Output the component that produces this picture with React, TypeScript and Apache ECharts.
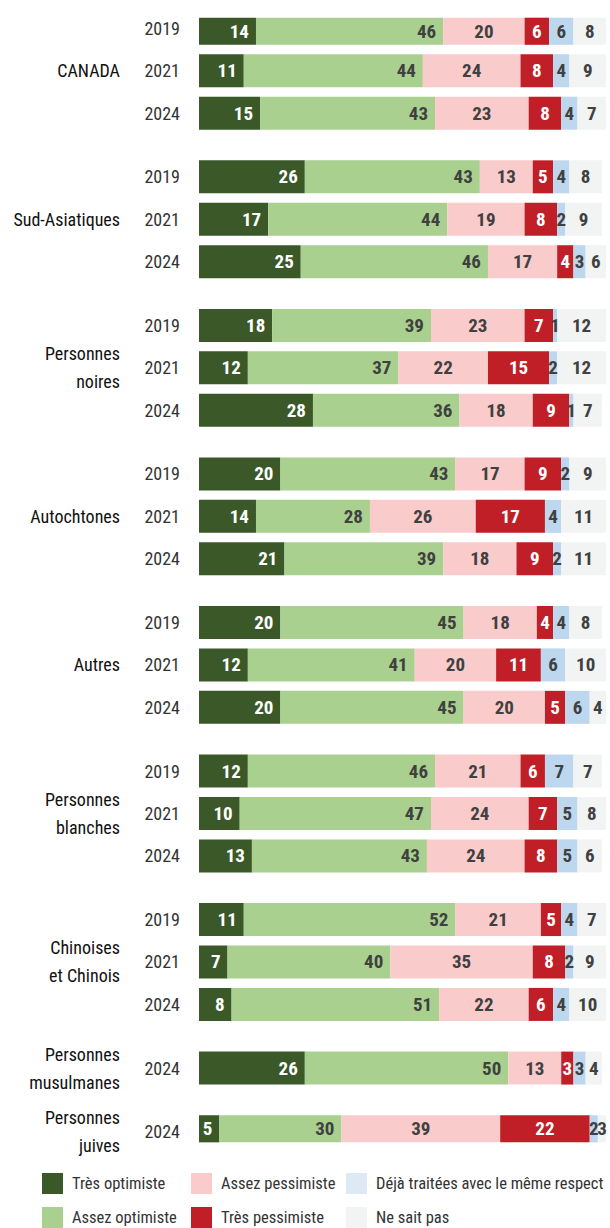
import React, { useEffect, useRef } from "react";
import * as echarts from "echarts";

const groups = [
  "CANADA",
  "Sud-Asiatiques",
  "Personnes\nnoires",
  "Autochtones",
  "Autres",
  "Personnes\nblanches",
  "Chinoises\net Chinois",
  "Personnes\nmusulmanes",
  "Personnes\njuives",
];
const groupYears = [
  ["2019", "2021", "2024"],
  ["2019", "2021", "2024"],
  ["2019", "2021", "2024"],
  ["2019", "2021", "2024"],
  ["2019", "2021", "2024"],
  ["2019", "2021", "2024"],
  ["2019", "2021", "2024"],
  ["2024"],
  ["2024"],
];

const seriesNames = [
  "Très optimiste",
  "Assez optimiste",
  "Assez pessimiste",
  "Très pessimiste",
  "Déjà traitées avec le même respect",
  "Ne sait pas",
];

const tresOptimiste = [14, 11, 15, 26, 17, 25, 18, 12, 28, 20, 14, 21, 20, 12, 20, 12, 10, 13, 11, 7, 8, 26, 5];
const assezOptimiste = [46, 44, 43, 43, 44, 46, 39, 37, 36, 43, 28, 39, 45, 41, 45, 46, 47, 43, 52, 40, 51, 50, 30];
const assezPessimiste = [20, 24, 23, 13, 19, 17, 23, 22, 18, 17, 26, 18, 18, 20, 20, 21, 24, 24, 21, 35, 22, 13, 39];
const tresPessimiste = [6, 8, 8, 5, 8, 4, 7, 15, 9, 9, 17, 9, 4, 11, 5, 6, 7, 8, 5, 8, 6, 3, 22];
const dejaTraitees = [6, 4, 4, 4, 2, 3, 1, 2, 1, 2, 4, 2, 4, 6, 6, 7, 5, 5, 4, 2, 4, 3, 2];
const neSaitPas = [8, 9, 7, 8, 9, 6, 12, 12, 7, 9, 11, 11, 8, 10, 4, 7, 8, 6, 7, 9, 10, 4, 3];

const seriesValues = [tresOptimiste, assezOptimiste, assezPessimiste, tresPessimiste, dejaTraitees, neSaitPas];

const colors = ["#3b5829", "#a9d08e", "#f9cbcb", "#c01f27", "#bdd7ee", "#f2f3f3"];
const legendColors = ["#3b5829", "#a9d08e", "#f9cbcb", "#c01f27", "#ddeaf6", "#f2f3f3"];
const labelColors = ["#ffffff", "#404040", "#404040", "#ffffff", "#404040", "#404040"];
const labelPositions = ["insideRight", "insideRight", "inside", "inside", "inside", "inside"];

const FONT = "'Roboto Condensed', 'DejaVu Sans Condensed', sans-serif";

type Slot = { id: string; row: number; year: string; group: string };

function buildSlots(): Slot[] {
  const slots: Slot[] = [];
  let row = 0;
  groups.forEach((g, gi) => {
    const yrs = groupYears[gi];
    const mid = Math.floor(yrs.length / 2);
    yrs.forEach((y, yi) => {
      slots.push({ id: `r${row}`, row, year: y, group: yi === mid ? g : "" });
      row++;
      if (yi < yrs.length - 1) slots.push({ id: `s${slots.length}`, row: -1, year: "", group: "" });
    });
    if (gi < groups.length - 1) {
      slots.push({ id: `s${slots.length}`, row: -1, year: "", group: "" });
      slots.push({ id: `s${slots.length}`, row: -1, year: "", group: "" });
    }
  });
  return slots;
}

export default function App() {
  const ref = useRef<HTMLDivElement>(null);
  useEffect(() => {
    if (!ref.current) return;
    const chart = echarts.init(ref.current, null, { renderer: "svg" });
    const slots = buildSlots();
    const cats = slots.map((s) => s.id);
    const slotH = 21.22;
    const firstCenter = 28.3;
    const top = firstCenter - slotH / 2;
    const height = slotH * slots.length;

    const series = seriesNames.map((name, si) => ({
      name,
      type: "bar",
      stack: "total",
      barWidth: 33,
      yAxisIndex: 0,
      itemStyle: { color: colors[si] },
      label: {
        show: true,
        position: labelPositions[si],
        distance: 7,
        color: labelColors[si],
        fontFamily: FONT,
        fontWeight: "bold",
        fontSize: 19,
        formatter: (p: any) => String(p.value),
      },
      emphasis: { disabled: true },
      data: slots.map((s) => (s.row >= 0 ? seriesValues[si][s.row] : "-")),
    }));

    const legendCols = [
      [0, 1],
      [2, 3],
      [4, 5],
    ];
    const legendLefts = [42, 191, 346];

    chart.setOption({
      animation: false,
      grid: {
        left: 199,
        top,
        width: 407,
        height,
        containLabel: false,
        outerBoundsMode: "none",
      },
      xAxis: {
        type: "value",
        min: 0,
        max: 100,
        show: false,
      },
      yAxis: [
        {
          type: "category",
          data: cats,
          inverse: true,
          axisLine: { show: false },
          axisTick: { show: false },
          splitLine: { show: false },
          axisLabel: {
            interval: 0,
            margin: 19,
            fontFamily: FONT,
            fontSize: 18,
            color: "#333333",
            formatter: (_v: string, i: number) => slots[i].year,
          },
        },
        {
          type: "category",
          data: cats,
          inverse: true,
          position: "left",
          axisLine: { show: false },
          axisTick: { show: false },
          splitLine: { show: false },
          axisLabel: {
            interval: 0,
            margin: 79,
            fontFamily: FONT,
            fontSize: 18,
            lineHeight: 28,
            color: "#111111",
            align: "right",
            formatter: (_v: string, i: number) => slots[i].group,
          },
        },
      ],
      legend: legendCols.map((col, li) => ({
        orient: "vertical",
        left: legendLefts[li],
        top: 1173,
        padding: 0,
        itemWidth: 21,
        itemHeight: 21,
        itemGap: 13,
        icon: "rect",
        selectedMode: false,
        textStyle: { fontFamily: FONT, fontSize: 16.5, color: "#333333", padding: [0, 0, 0, 4] },
        data: col.map((si) => ({ name: seriesNames[si], itemStyle: { color: legendColors[si] } })),
      })),
      series,
    });
    return () => chart.dispose();
  }, []);
  return (
    <div
      ref={ref}
      style={{ position: "absolute", left: 0, top: 0, width: 610, height: 1228 }}
    />
  );
}
